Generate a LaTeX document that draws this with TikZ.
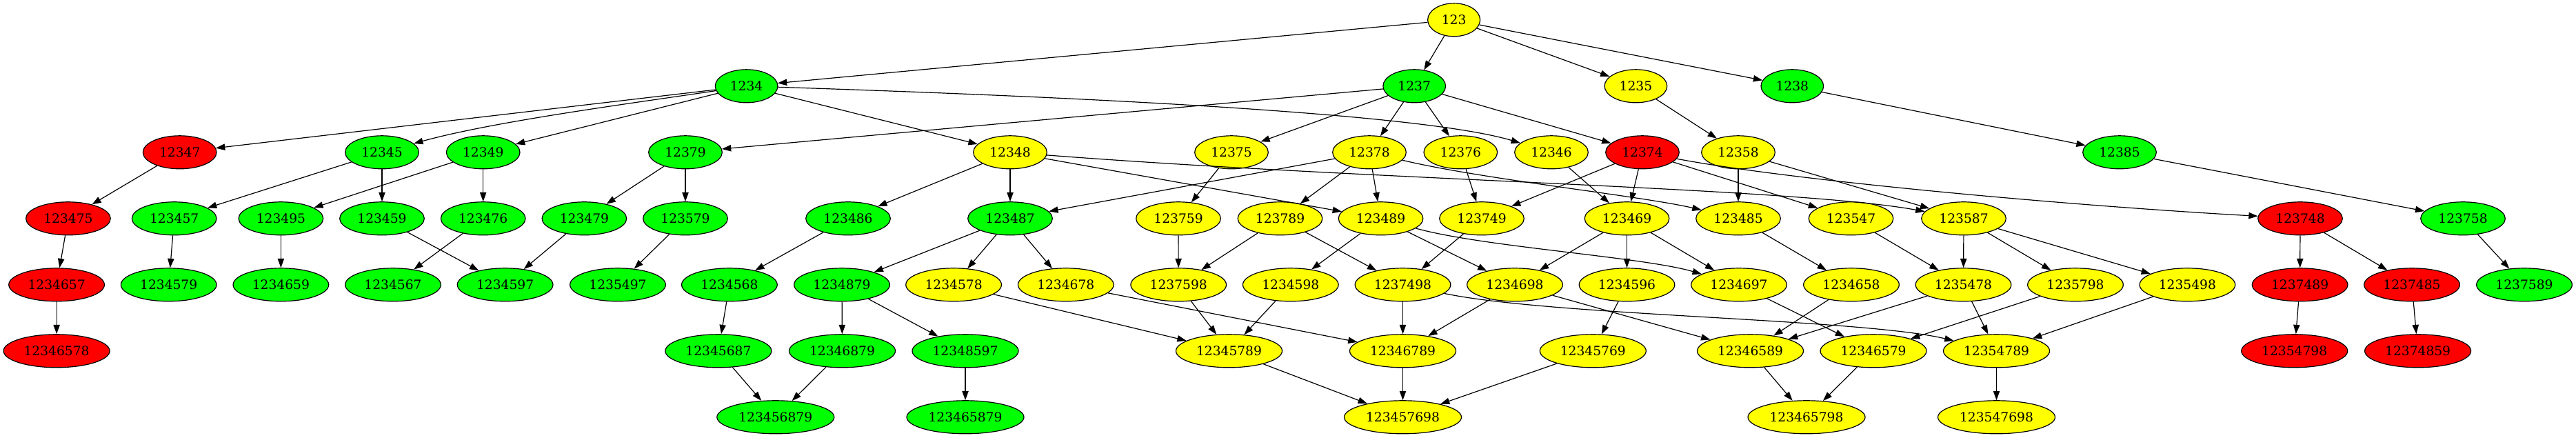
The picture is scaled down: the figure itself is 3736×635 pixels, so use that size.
\documentclass[tikz,border=0pt]{standalone}
\usepackage{fontspec}
\setmainfont{DejaVu Serif}
\usetikzlibrary{shapes.geometric,arrows.meta}
\definecolor{gvgreen}{RGB}{0,255,0}
\definecolor{gvyellow}{RGB}{255,255,0}
\definecolor{gvred}{RGB}{255,0,0}
\begin{document}
\begin{tikzpicture}[x=0.75pt,y=-0.75pt,
  nd/.style={ellipse, draw=black, line width=0.9pt, inner sep=0pt, minimum height=36pt, font=\fontsize{14}{16}\selectfont},
  gn/.style={nd, fill=gvgreen},
  yl/.style={nd, fill=gvyellow},
  rd/.style={nd, fill=gvred},
  w3/.style={minimum width=57pt},
  w4/.style={minimum width=68pt},
  w5/.style={minimum width=80pt},
  w6/.style={minimum width=92pt},
  w7/.style={minimum width=104pt},
  w8/.style={minimum width=115.5pt},
  w9/.style={minimum width=127.5pt},
  ed/.style={draw=black, line width=0.9pt, -{Triangle[length=10pt,width=7pt]}}]
\fill[white] (0,0) rectangle (3736,635);
\useasboundingbox (0,0) rectangle (3736,635);
% rank 0
\node[yl,w3] (n123) at (2108.6,28.8) {123};
% rank 1
\node[gn,w4] (n1234) at (1082.6,124.8) {1234};
\node[gn,w4] (n1237) at (2051.2,124.8) {1237};
\node[yl,w4] (n1235) at (2372.4,124.8) {1235};
\node[gn,w4] (n1238) at (2599.3,124.8) {1238};
% rank 2
\node[rd,w5] (n12347) at (260.7,220.8) {12347};
\node[gn,w5] (n12345) at (554,220.8) {12345};
\node[gn,w5] (n12349) at (700.7,220.8) {12349};
\node[gn,w5] (n12379) at (994,220.8) {12379};
\node[yl,w5] (n12348) at (1465,220.8) {12348};
\node[yl,w5] (n12375) at (1786,220.8) {12375};
\node[yl,w5] (n12378) at (1986,220.8) {12378};
\node[yl,w5] (n12376) at (2118.3,220.8) {12376};
\node[yl,w5] (n12346) at (2250,220.8) {12346};
\node[rd,w5] (n12374) at (2382,220.8) {12374};
\node[yl,w5] (n12358) at (2521,220.8) {12358};
\node[gn,w5] (n12385) at (3074,220.8) {12385};
% rank 3
\node[rd,w6] (n123475) at (98.9,316.8) {123475};
\node[gn,w6] (n123457) at (252.7,316.8) {123457};
\node[gn,w6] (n123495) at (407.4,316.8) {123495};
\node[gn,w6] (n123459) at (554,316.8) {123459};
\node[gn,w6] (n123476) at (700.7,316.8) {123476};
\node[gn,w6] (n123479) at (847.4,316.8) {123479};
\node[gn,w6] (n123579) at (994,316.8) {123579};
\node[gn,w6] (n123486) at (1230,316.8) {123486};
\node[gn,w6] (n123487) at (1465,316.8) {123487};
\node[yl,w6] (n123759) at (1709,316.8) {123759};
\node[yl,w6] (n123789) at (1856.5,316.8) {123789};
\node[yl,w6] (n123489) at (2002.5,316.8) {123489};
\node[yl,w6] (n123749) at (2149,316.8) {123749};
\node[yl,w6] (n123469) at (2359.5,316.8) {123469};
\node[yl,w6] (n123485) at (2521,316.8) {123485};
\node[yl,w6] (n123547) at (2684.5,316.8) {123547};
\node[yl,w6] (n123587) at (2848,316.8) {123587};
\node[rd,w6] (n123748) at (3336,316.8) {123748};
\node[gn,w6] (n123758) at (3572,316.8) {123758};
% rank 4
\node[rd,w7] (n1234657) at (82.1,412.8) {1234657};
\node[gn,w7] (n1234579) at (244.7,412.8) {1234579};
\node[gn,w7] (n1234659) at (407.4,412.8) {1234659};
\node[gn,w7] (n1234567) at (570,412.8) {1234567};
\node[gn,w7] (n1234597) at (732.6,412.8) {1234597};
\node[gn,w7] (n1235497) at (896,412.8) {1235497};
\node[gn,w7] (n1234568) at (1057.9,412.8) {1234568};
\node[gn,w7] (n1234879) at (1221,412.8) {1234879};
\node[yl,w7] (n1234578) at (1383.1,412.8) {1234578};
\node[yl,w7] (n1234678) at (1545.8,412.8) {1234678};
\node[yl,w7] (n1237598) at (1709.2,412.8) {1237598};
\node[yl,w7] (n1234598) at (1871.8,412.8) {1234598};
\node[yl,w7] (n1237498) at (2034.5,412.8) {1237498};
\node[yl,w7] (n1234698) at (2197,412.8) {1234698};
\node[yl,w7] (n1234596) at (2359.5,412.8) {1234596};
\node[yl,w7] (n1234697) at (2522,412.8) {1234697};
\node[yl,w7] (n1234658) at (2685,412.8) {1234658};
\node[yl,w7] (n1235478) at (2847.5,412.8) {1235478};
\node[yl,w7] (n1235798) at (3010,412.8) {1235798};
\node[yl,w7] (n1235498) at (3172.4,412.8) {1235498};
\node[rd,w7] (n1237489) at (3335.6,412.8) {1237489};
\node[rd,w7] (n1237485) at (3498,412.8) {1237485};
\node[gn,w7] (n1237589) at (3661,412.8) {1237589};
% rank 5
\node[rd,w8] (n12346578) at (82.1,508.8) {12346578};
\node[gn,w8] (n12345687) at (1041.9,508.8) {12345687};
\node[gn,w8] (n12346879) at (1221.5,508.8) {12346879};
\node[gn,w8] (n12348597) at (1400,508.8) {12348597};
\node[yl,w8] (n12345789) at (1782.5,508.8) {12345789};
\node[yl,w8] (n12346789) at (2034.5,508.8) {12346789};
\node[yl,w8] (n12345769) at (2310.3,508.8) {12345769};
\node[yl,w8] (n12346589) at (2538.5,508.8) {12346589};
\node[yl,w8] (n12346579) at (2717,508.8) {12346579};
\node[yl,w8] (n12354789) at (2895.5,508.8) {12354789};
\node[rd,w8] (n12354798) at (3327.7,508.8) {12354798};
\node[rd,w8] (n12374859) at (3506.6,508.8) {12374859};
% rank 6
\node[gn,w9] (n123456879) at (1124.8,604.8) {123456879};
\node[gn,w9] (n123465879) at (1400,604.8) {123465879};
\node[yl,w9] (n123457698) at (2034.5,604.8) {123457698};
\node[yl,w9] (n123465798) at (2620,604.8) {123465798};
\node[yl,w9] (n123547698) at (2895.5,604.8) {123547698};
% edges rank 0 -> 1
\draw[ed] (n123) -- (n1234);
\draw[ed] (n123) -- (n1237);
\draw[ed] (n123) -- (n1235);
\draw[ed] (n123) -- (n1238);
% rank 1 -> 2
\draw[ed] (n1234) -- (n12347);
\draw[ed] (n1234) .. controls (930,148) and (720,175) .. (n12345);
\draw[ed] (n1234) -- (n12349);
\draw[ed] (n1234) -- (n12348);
\draw[ed] (n1234) .. controls (1700,145) and (2080,170) .. (n12346);
\draw[ed] (n1237) -- (n12379);
\draw[ed] (n1237) -- (n12375);
\draw[ed] (n1237) -- (n12378);
\draw[ed] (n1237) -- (n12376);
\draw[ed] (n1237) -- (n12374);
\draw[ed] (n1235) -- (n12358);
\draw[ed] (n1238) -- (n12385);
% rank 2 -> 3
\draw[ed] (n12347) -- (n123475);
\draw[ed] (n12345) -- (n123457);
\draw[ed] (n12345) -- (n123459);
\draw[ed] (n12349) -- (n123495);
\draw[ed] (n12349) -- (n123476);
\draw[ed] (n12379) -- (n123479);
\draw[ed] (n12379) -- (n123579);
\draw[ed] (n12348) -- (n123486);
\draw[ed] (n12348) -- (n123487);
\draw[ed] (n12348) -- (n123489);
\draw[ed] (n12348) .. controls (2000,262) and (2600,272) .. (n123587);
\draw[ed] (n12375) -- (n123759);
\draw[ed] (n12378) -- (n123487);
\draw[ed] (n12378) -- (n123789);
\draw[ed] (n12378) -- (n123489);
\draw[ed] (n12378) .. controls (2150,260) and (2380,284) .. (n123485);
\draw[ed] (n12376) -- (n123749);
\draw[ed] (n12346) -- (n123469);
\draw[ed] (n12374) -- (n123749);
\draw[ed] (n12374) -- (n123469);
\draw[ed] (n12374) -- (n123547);
\draw[ed] (n12374) .. controls (2600,262) and (3000,298) .. (n123748);
\draw[ed] (n12358) -- (n123485);
\draw[ed] (n12358) -- (n123587);
\draw[ed] (n12385) -- (n123758);
% rank 3 -> 4
\draw[ed] (n123475) -- (n1234657);
\draw[ed] (n123457) -- (n1234579);
\draw[ed] (n123495) -- (n1234659);
\draw[ed] (n123459) -- (n1234597);
\draw[ed] (n123476) -- (n1234567);
\draw[ed] (n123479) -- (n1234597);
\draw[ed] (n123579) -- (n1235497);
\draw[ed] (n123486) -- (n1234568);
\draw[ed] (n123487) -- (n1234879);
\draw[ed] (n123487) -- (n1234578);
\draw[ed] (n123487) -- (n1234678);
\draw[ed] (n123759) -- (n1237598);
\draw[ed] (n123789) -- (n1237598);
\draw[ed] (n123789) -- (n1237498);
\draw[ed] (n123489) -- (n1234598);
\draw[ed] (n123489) -- (n1234698);
\draw[ed] (n123489) .. controls (2150,358) and (2380,372) .. (n1234697);
\draw[ed] (n123749) -- (n1237498);
\draw[ed] (n123469) -- (n1234698);
\draw[ed] (n123469) -- (n1234596);
\draw[ed] (n123469) -- (n1234697);
\draw[ed] (n123485) -- (n1234658);
\draw[ed] (n123547) -- (n1235478);
\draw[ed] (n123587) -- (n1235478);
\draw[ed] (n123587) -- (n1235798);
\draw[ed] (n123587) -- (n1235498);
\draw[ed] (n123748) -- (n1237489);
\draw[ed] (n123748) -- (n1237485);
\draw[ed] (n123758) -- (n1237589);
% rank 4 -> 5
\draw[ed] (n1234657) -- (n12346578);
\draw[ed] (n1234568) -- (n12345687);
\draw[ed] (n1234879) -- (n12346879);
\draw[ed] (n1234879) -- (n12348597);
\draw[ed] (n1234578) -- (n12345789);
\draw[ed] (n1234678) -- (n12346789);
\draw[ed] (n1237598) -- (n12345789);
\draw[ed] (n1234598) -- (n12345789);
\draw[ed] (n1237498) -- (n12346789);
\draw[ed] (n1237498) .. controls (2250,458) and (2700,462) .. (n12354789);
\draw[ed] (n1234698) -- (n12346789);
\draw[ed] (n1234698) -- (n12346589);
\draw[ed] (n1234596) -- (n12345769);
\draw[ed] (n1234697) -- (n12346579);
\draw[ed] (n1234658) -- (n12346589);
\draw[ed] (n1235478) -- (n12346589);
\draw[ed] (n1235478) -- (n12354789);
\draw[ed] (n1235798) -- (n12346579);
\draw[ed] (n1235498) -- (n12354789);
\draw[ed] (n1237489) -- (n12354798);
\draw[ed] (n1237485) -- (n12374859);
% rank 5 -> 6
\draw[ed] (n12345687) -- (n123456879);
\draw[ed] (n12346879) -- (n123456879);
\draw[ed] (n12348597) -- (n123465879);
\draw[ed] (n12345789) -- (n123457698);
\draw[ed] (n12346789) -- (n123457698);
\draw[ed] (n12345769) -- (n123457698);
\draw[ed] (n12346589) -- (n123465798);
\draw[ed] (n12346579) -- (n123465798);
\draw[ed] (n12354789) -- (n123547698);
\end{tikzpicture}
\end{document}
